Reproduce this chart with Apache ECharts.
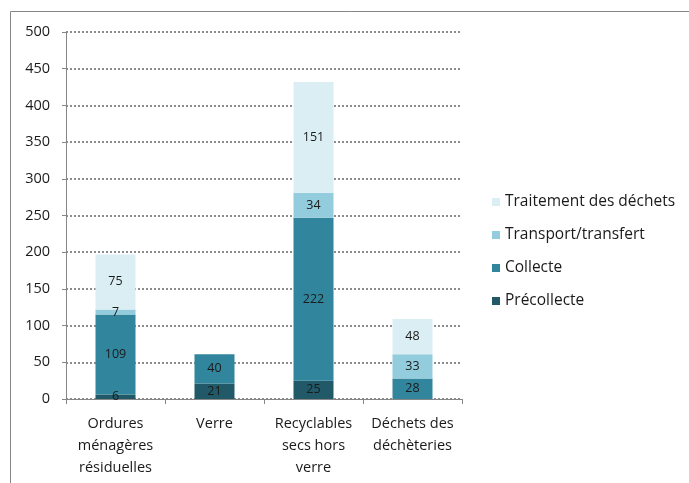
<!DOCTYPE html>
<html><head><meta charset="utf-8">
<script src="https://cdn.jsdelivr.net/npm/echarts@6/dist/echarts.min.js"></script>
<style>html,body{margin:0;padding:0;background:#fff}#c{width:689px;height:483px}</style>
</head><body><div id="c"></div>
<script>
const categories = ["Ordures\nménagères\nrésiduelles", "Verre", "Recyclables\nsecs hors\nverre", "Déchets des\ndéchèteries"];
const precollecte = [6, 21, 25, 0];
const collecte = [109, 40, 222, 28];
const transport = [7, 0, 34, 33];
const traitement = [75, 0, 151, 48];
const yTicks = [0, 50, 100, 150, 200, 250, 300, 350, 400, 450, 500];

const FONT = '"Open Sans"';
const chart = echarts.init(document.getElementById('c'), null, {renderer: 'canvas'});
const lbl = {show: true, color: '#1a1a1a', fontSize: 12.5, fontFamily: FONT, formatter: p => p.value ? String(p.value) : ''};
function s(name, data, color) {
  return {name, type: 'bar', stack: 't', data, barWidth: 40, itemStyle: {color}, label: lbl, emphasis: {disabled: true}};
}
chart.setOption({
  animation: false,
  textStyle: {fontFamily: FONT},
  graphic: [{type: 'rect', shape: {x: 10.5, y: 11.5, width: 720, height: 520}, style: {fill: null, stroke: '#868686', lineWidth: 1}, silent: true}],
  grid: {left: 66, right: 227, top: 32, bottom: 84, containLabel: false},
  legend: {
    orient: 'vertical', left: 487, top: 189, itemWidth: 8, itemHeight: 8, itemGap: 17,
    icon: 'rect', textStyle: {fontSize: 15.5, color: '#1a1a1a', fontFamily: FONT},
    data: ['Traitement des déchets', 'Transport/transfert', 'Collecte', 'Précollecte']
  },
  xAxis: {
    type: 'category', data: categories,
    axisLine: {lineStyle: {color: '#868686'}},
    axisTick: {show: true, length: 5, lineStyle: {color: '#868686'}},
    axisLabel: {fontSize: 14.5, color: '#1a1a1a', lineHeight: 22, margin: 14, interval: 0, fontFamily: FONT}
  },
  yAxis: {
    type: 'value', min: yTicks[0], max: yTicks[yTicks.length - 1], interval: 50,
    axisLine: {show: true, lineStyle: {color: '#868686'}},
    axisTick: {show: true, length: 4, lineStyle: {color: '#868686'}},
    axisLabel: {fontSize: 14.5, color: '#1a1a1a', margin: 16, fontFamily: FONT},
    splitLine: {show: true, lineStyle: {color: '#8c8c8c', type: [2, 2], width: 2}}
  },
  series: [
    s('Précollecte', precollecte, '#215968'),
    s('Collecte', collecte, '#31859c'),
    s('Transport/transfert', transport, '#93cddd'),
    s('Traitement des déchets', traitement, '#dbeef3')
  ]
});
</script></body></html>
